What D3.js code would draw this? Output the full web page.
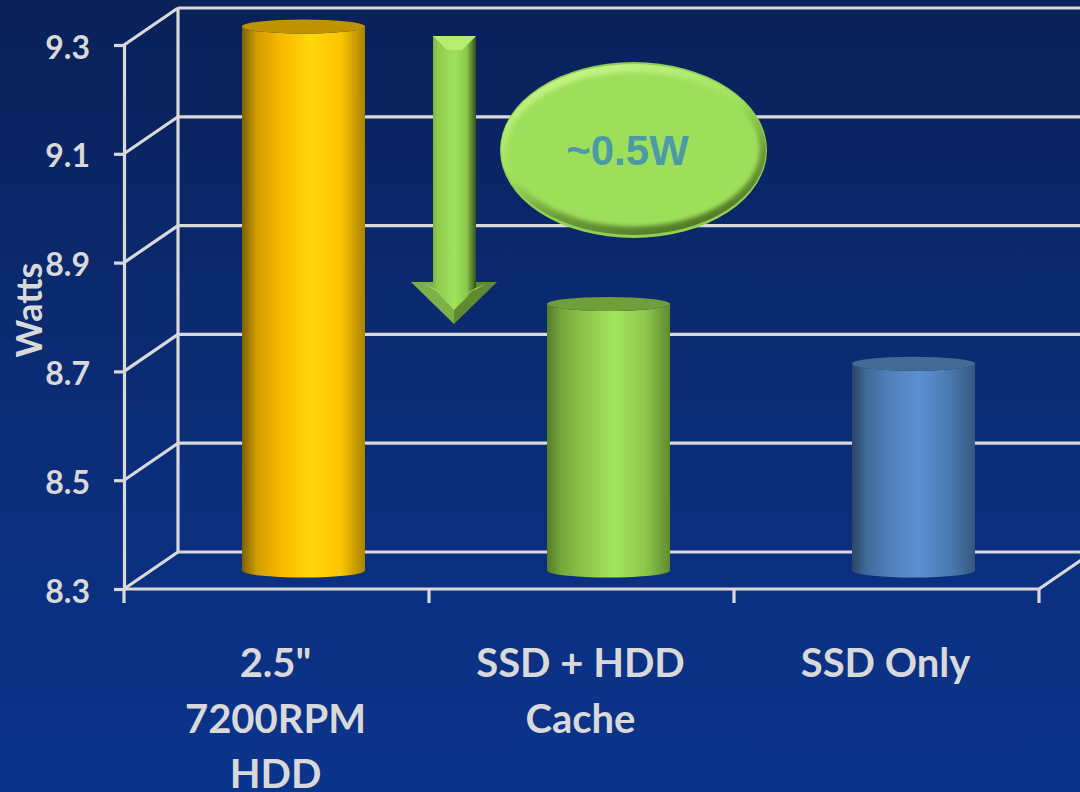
<!DOCTYPE html>
<html lang="en">
<head>
<meta charset="UTF-8">
<title>Watts</title>
<script src="https://d3js.org/d3.v7.min.js"></script>
<style>
  html, body { margin: 0; padding: 0; background: #0b338b; overflow: hidden; }
  svg { display: block; }
  text { font-family: Lato, "Open Sans", sans-serif; font-weight: 700; fill: #d9d9d9; }
</style>
</head>
<body>
<div class="canvas"></div>
<script>
  const categories = ['2.5" 7200RPM HDD', 'SSD + HDD Cache', 'SSD Only']
  const categoryLines = [['2.5"', '7200RPM', 'HDD'], ['SSD + HDD', 'Cache'], ['SSD Only']]
  const watts = [9.3, 8.79, 8.68]
  const yTicks = [8.3, 8.5, 8.7, 8.9, 9.1, 9.3]
  const calloutText = '~0.5W'

  // side gradient stops for each cylinder
  const sideColors = [
    ['#7d6000', '#d39c00', '#f6b700', '#ffd60a', '#fdc600', '#a98300'],
    ['#557d28', '#76a83c', '#8cc54b', '#a4e55e', '#8cc84a', '#5f8a30'],
    ['#2a4565', '#3f6a9b', '#4f80ba', '#5a90d2', '#4a79b0', '#36587f']
  ]
  const capColors = ['#bf9300', '#6f9e3a', '#426b96']
  const stopAt = [0, 0.12, 0.3, 0.55, 0.8, 1]

  const width = 1080, height = 792
  const depthX = 54, depthY = -37

  const svg = d3.select('.canvas').append('svg')
    .attr('width', width)
    .attr('height', height)
  const defs = svg.append('defs')

  const bg = defs.append('linearGradient').attr('id', 'bg')
    .attr('x1', 0).attr('y1', 0).attr('x2', 0).attr('y2', 1)
  bg.append('stop').attr('offset', 0).attr('stop-color', '#0a2159')
  bg.append('stop').attr('offset', 0.55).attr('stop-color', '#0b2d78')
  bg.append('stop').attr('offset', 1).attr('stop-color', '#0b348c')
  svg.append('rect').attr('width', width).attr('height', height).attr('fill', 'url(#bg)')

  const x = d3.scaleBand().domain(categories).range([124, 1039])
  const y = d3.scaleLinear().domain([8.3, 9.3]).range([589, 45])
  const gridColor = '#d9d9d9'
  const gridWidth = 3.2

  // back wall + side wall
  const grid = svg.append('g')
    .attr('fill', 'none')
    .attr('stroke', gridColor)
    .attr('stroke-width', gridWidth)
  grid.selectAll('.back').data(yTicks).enter().append('line')
    .attr('x1', x.range()[0] + depthX)
    .attr('x2', width + 5)
    .attr('y1', d => y(d) + depthY)
    .attr('y2', d => y(d) + depthY)
  grid.selectAll('.side').data(yTicks).enter().append('line')
    .attr('x1', x.range()[0])
    .attr('x2', x.range()[0] + depthX)
    .attr('y1', d => y(d))
    .attr('y2', d => y(d) + depthY)
  grid.append('line')
    .attr('x1', x.range()[0] + depthX).attr('x2', x.range()[0] + depthX)
    .attr('y1', y(9.3) + depthY).attr('y2', y(8.3) + depthY)
  grid.append('line')
    .attr('x1', x.range()[1]).attr('x2', x.range()[1] + depthX)
    .attr('y1', y(8.3)).attr('y2', y(8.3) + depthY)

  // front axes
  const yAxis = svg.append('g')
    .attr('transform', `translate(${x.range()[0]},0)`)
    .call(d3.axisLeft(y).tickValues(yTicks).tickFormat(d3.format('.1f')).tickSize(10).tickPadding(24))
  yAxis.selectAll('.domain').attr('stroke', gridColor).attr('stroke-width', gridWidth)
  yAxis.selectAll('line').attr('stroke', gridColor).attr('stroke-width', gridWidth)
  yAxis.selectAll('text')
    .attr('font-size', 32).attr('dy', '0.41em')
    .style('font-family', 'Lato').style('fill', '#d9d9d9')

  const xEdges = categories.map(c => x(c)).concat(x.range()[1])
  const xAxis = svg.append('g').attr('stroke', gridColor).attr('stroke-width', gridWidth)
  xAxis.append('line')
    .attr('x1', x.range()[0]).attr('x2', x.range()[1])
    .attr('y1', y(8.3)).attr('y2', y(8.3))
  xAxis.selectAll('.t').data(xEdges).enter().append('line')
    .attr('x1', d => d).attr('x2', d => d)
    .attr('y1', y(8.3)).attr('y2', y(8.3) + 14)

  // category labels
  svg.selectAll('.cat').data(categories).enter().append('text')
    .attr('class', 'cat')
    .attr('text-anchor', 'middle')
    .attr('font-size', 40)
    .each(function (d, i) {
      d3.select(this).selectAll('tspan').data(categoryLines[i]).enter().append('tspan')
        .attr('x', x(d) + x.bandwidth() / 2 - 1)
        .attr('y', (l, j) => 677 + j * 55.5)
        .text(l => l)
    })

  svg.append('text')
    .attr('transform', 'translate(42,310) rotate(-90)')
    .attr('text-anchor', 'middle')
    .attr('font-size', 36)
    .text('Watts')

  // cylinders
  const rx = 61.5, ry = 7
  categories.forEach((c, i) => {
    const g = defs.append('linearGradient').attr('id', 'side' + i)
    stopAt.forEach((s, j) => g.append('stop').attr('offset', s).attr('stop-color', sideColors[i][j]))
  })
  const cyl = svg.selectAll('.cyl').data(categories).enter().append('g')
    .attr('class', 'cyl')
    .attr('transform', d => `translate(${x(d) + x.bandwidth() / 2 + depthX / 2},${depthY / 2})`)
  cyl.append('path')
    .attr('fill', (d, i) => `url(#side${i})`)
    .attr('d', (d, i) => {
      const t = y(watts[i]), b = y(8.3)
      return `M${-rx},${t}L${-rx},${b}A${rx},${ry} 0 0 0 ${rx},${b}L${rx},${t}A${rx},${ry} 0 0 1 ${-rx},${t}Z`
    })
  cyl.append('ellipse')
    .attr('rx', rx).attr('ry', ry)
    .attr('cy', (d, i) => y(watts[i]))
    .attr('fill', (d, i) => capColors[i])

  // arrow
  const shaft = defs.append('linearGradient').attr('id', 'shaft')
    .attr('gradientUnits', 'userSpaceOnUse').attr('x1', 433).attr('x2', 476).attr('y1', 0).attr('y2', 0)
  ;[[0, '#7fb642'], [0.12, '#8fcc4e'], [0.5, '#a0e25c'], [0.78, '#8cc84c'], [0.9, '#5d8730'], [1, '#35501a']]
    .forEach(s => shaft.append('stop').attr('offset', s[0]).attr('stop-color', s[1]))
  const arrow = svg.append('g').attr('class', 'arrow')
  arrow.append('path').attr('fill', '#7fb048').attr('d', 'M411,282L454,324V282Z')
  arrow.append('path').attr('fill', '#5f8a30').attr('d', 'M497,282L454,324V282Z')
  arrow.append('path').attr('fill', 'url(#shaft)')
    .attr('d', 'M433,36H476V288L454,310L433,288Z')
  arrow.append('path').attr('fill', '#b4ec74').attr('d', 'M433,36H476L462,50H447Z')
  arrow.append('path').attr('fill', '#b8ee7a').attr('d', 'M424,284L433,288L447,296Z')
  arrow.append('path').attr('fill', '#b8ee7a').attr('d', 'M486,284L476,288L462,296Z')

  // callout
  const bevel = defs.append('linearGradient').attr('id', 'bevel')
    .attr('x1', 0.25).attr('y1', 0).attr('x2', 0.75).attr('y2', 1)
  ;[[0, '#c8f58a'], [0.45, '#9ddf5a'], [0.7, '#6f9c3a'], [1, '#4f7425']]
    .forEach(s => bevel.append('stop').attr('offset', s[0]).attr('stop-color', s[1]))
  defs.append('filter').attr('id', 'soft')
    .append('feGaussianBlur').attr('stdDeviation', 2.2)
  const callout = svg.append('g').attr('transform', 'translate(633.5,150)')
  callout.append('ellipse').attr('rx', 133.5).attr('ry', 88).attr('fill', '#90d053')
  callout.append('ellipse').attr('rx', 132.5).attr('ry', 85.5).attr('cy', -0.5).attr('fill', 'url(#bevel)')
  callout.append('ellipse').attr('rx', 126).attr('ry', 77).attr('cy', -0.5).attr('fill', '#9ddf5a')
    .attr('filter', 'url(#soft)')
  callout.append('text')
    .attr('text-anchor', 'middle')
    .attr('x', -6)
    .attr('y', 15)
    .attr('font-size', 42)
    .style('font-family', '"Liberation Sans"')
    .style('fill', '#4a9aa8')
    .text(calloutText)
</script>
</body>
</html>
